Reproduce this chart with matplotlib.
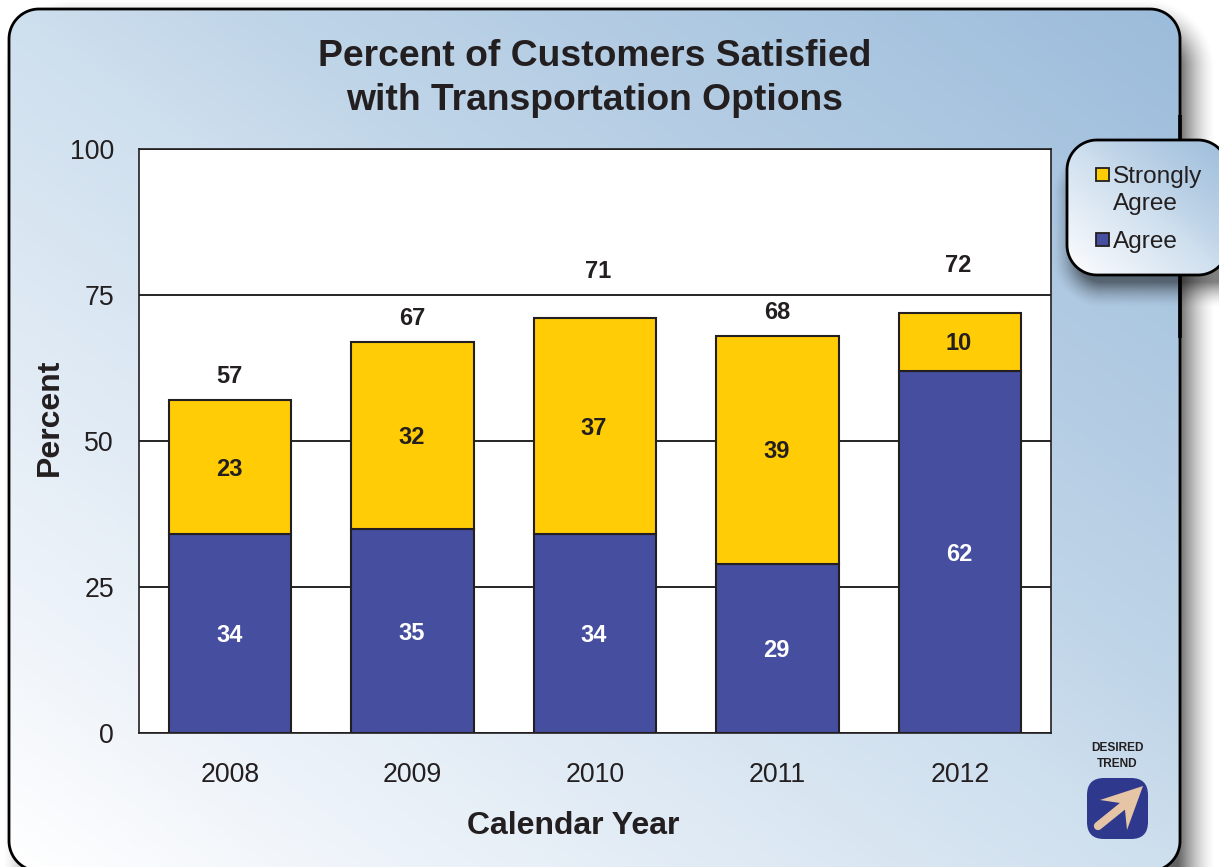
import numpy as np
import matplotlib
matplotlib.use('Agg')
import matplotlib.pyplot as plt
from matplotlib.colors import LinearSegmentedColormap
from matplotlib.patches import FancyBboxPatch, Polygon, Rectangle

plt.rcParams['font.family'] = ['Liberation Sans', 'DejaVu Sans']

years = ['2008', '2009', '2010', '2011', '2012']
agree = [34, 35, 34, 29, 62]
strongly_agree = [23, 32, 37, 39, 10]
totals = [57, 67, 71, 68, 72]
y_ticks = [0, 25, 50, 75, 100]

# distance of the total labels above the bars, in pixels (they float unevenly)
total_offset_px = [24, 23, 47, 23, 47]
total_shift_px = [-1, 0, 3, 0, -2]

W, H = 1219, 867
TEXT = '#231f20'
GOLD = '#ffcc05'
BLUE = '#464ea0'
DPI = 100

bg_cmap = LinearSegmentedColormap.from_list(
    'panel', [(0, '#ffffff'), (0.15, '#eff4fa'), (0.5, '#cedfee'),
              (0.6, '#c0d5e8'), (1, '#9cbcdb')])


def round_rect_sd(xx, yy, x0, y0, x1, y1, r):
    """Signed distance to a rounded rectangle, in pixels."""
    cx, cy = (x0 + x1) / 2, (y0 + y1) / 2
    qx = np.abs(xx - cx) - (x1 - x0) / 2 + r
    qy = np.abs(yy - cy) - (y1 - y0) / 2 + r
    return (np.hypot(np.maximum(qx, 0), np.maximum(qy, 0))
            + np.minimum(np.maximum(qx, qy), 0) - r)


def round_rect_outline(x0, y0, x1, y1, r):
    # plain polyline: agg mangles bezier corners that run off the canvas
    pts = []
    corners = [(x1 - r, y0 + r, -90), (x1 - r, y1 - r, 0),
               (x0 + r, y1 - r, 90), (x0 + r, y0 + r, 180)]
    for cx, cy, start in corners:
        a = np.radians(np.linspace(start, start + 90, 24))
        pts.extend(zip(cx + r * np.cos(a), cy + r * np.sin(a)))
    return pts


def draw_shadow(ax, xx, yy, box, r, blur, strength, zorder):
    d = round_rect_sd(xx, yy, *box, r)
    a = np.clip(1 - d / blur, 0, 1) ** 1.6 * strength
    img = np.zeros(xx.shape + (4,))
    img[..., 3] = a
    ax.imshow(img, extent=(0, W, H, 0), aspect='auto', zorder=zorder,
              interpolation='bilinear')


def gradient_box(ax, x0, y0, x1, y1, r, lw, zorder):
    patch = Polygon(round_rect_outline(x0, y0, x1, y1, r), closed=True,
                    fc='none', ec='#000000', lw=lw, zorder=zorder + 0.1)
    ax.add_patch(patch)
    xs = np.linspace(0, 1, 300)
    ys = np.linspace(0, 1, 300)
    gx, gy = np.meshgrid(xs, ys)
    im = ax.imshow((gx + (1 - gy)) / 2, extent=(x0, x1, y1, y0), aspect='auto',
                   cmap=bg_cmap, vmin=0, vmax=1, zorder=zorder)
    im.set_clip_path(patch)


fig = plt.figure(figsize=(W / DPI, H / DPI), dpi=DPI, facecolor='white')

# pixel-coordinate layer for the panel, legend card and trend badge
bg = fig.add_axes([0, 0, 1, 1], zorder=0)
xx, yy = np.meshgrid(np.arange(W) + 0.5, np.arange(H) + 0.5)
draw_shadow(bg, xx, yy, (40, 36, 1178, 900), 32, 38, 0.62, 1)
gradient_box(bg, 9, 9, 1180, 871, 30, 2.0, 2)

# the thicker edge segment behind the legend card
bg.plot([1180, 1180], [115, 338], color='#000000', lw=2.6, zorder=3,
        solid_capstyle='butt')
draw_shadow(bg, xx, yy, (1078, 170, 1240, 282), 24, 26, 0.5, 4)
gradient_box(bg, 1067, 140, 1228, 275, 30, 2.0, 5)

for top, color in [(168, GOLD), (233, BLUE)]:
    bg.add_patch(Rectangle((1096, top), 13, 13, fc=color, ec=TEXT, lw=1.3, zorder=7))
bg.text(1113, 177, 'Strongly', fontsize=17.6, color=TEXT, va='center', ha='left', zorder=7)
bg.text(1113, 204, 'Agree', fontsize=17.6, color=TEXT, va='center', ha='left', zorder=7)
bg.text(1113, 242, 'Agree', fontsize=17.6, color=TEXT, va='center', ha='left', zorder=7)

# desired trend badge
bg.text(1117, 748, 'DESIRED', fontsize=8.6, fontweight='bold', color=TEXT,
        ha='center', va='center', zorder=7)
bg.text(1117, 764, 'TREND', fontsize=8.6, fontweight='bold', color=TEXT,
        ha='center', va='center', zorder=7)
bg.add_patch(FancyBboxPatch((1101, 792), 33, 33,
                            boxstyle='round,pad=14,rounding_size=17',
                            fc='#2e388c', ec='none', zorder=7))
bg.add_patch(Polygon([(1143, 786), (1100, 800), (1120, 803), (1125, 810), (1127, 830)],
                     closed=True, fc='#e6c4a6', ec='none', zorder=8))
bg.plot([1098, 1124], [826, 805], color='#e6c4a6', lw=6, solid_capstyle='round', zorder=8)

bg.set_xlim(0, W)
bg.set_ylim(H, 0)
bg.axis('off')

# chart
ax = fig.add_axes([139 / W, 1 - 733 / H, (1051 - 139) / W, (733 - 149) / H], zorder=2)
ax.set_facecolor('white')
x = np.arange(len(years))
bar_w = 0.67
ax.set_axisbelow(True)
ax.yaxis.grid(True, color='#000000', lw=1.2)
ax.bar(x, agree, bar_w, color=BLUE, edgecolor=TEXT, lw=1.5, zorder=3)
ax.bar(x, strongly_agree, bar_w, bottom=agree, color=GOLD, edgecolor=TEXT, lw=1.5, zorder=3)

label_kw = dict(ha='center', va='center', fontsize=17, fontweight='bold', zorder=4)
seg_drop = -2.2 * 72 / DPI
for i in range(len(years)):
    ax.annotate(str(agree[i]), (x[i], agree[i] / 2), xytext=(-0.7, seg_drop),
                textcoords='offset points', color='white', **label_kw)
    ax.annotate(str(strongly_agree[i]), (x[i], agree[i] + strongly_agree[i] / 2),
                xytext=(-0.7, seg_drop), textcoords='offset points', color=TEXT, **label_kw)
    ax.annotate(str(totals[i]), (x[i], totals[i]),
                xytext=(total_shift_px[i] * 72 / DPI, total_offset_px[i] * 72 / DPI),
                textcoords='offset points', color=TEXT, annotation_clip=False, **label_kw)

ax.set_xlim(-0.5, len(years) - 0.5)
ax.set_ylim(0, 100)
ax.set_xticks(x, years)
ax.set_yticks(y_ticks)
ax.tick_params(axis='x', length=0, labelsize=19.2, labelcolor=TEXT, pad=21)
ax.tick_params(axis='y', length=0, labelsize=19.2, labelcolor=TEXT, pad=18)
for s in ax.spines.values():
    s.set_linewidth(1.2)
    s.set_color(TEXT)

fig.text(594.5 / W, 1 - 57 / H, 'Percent of Customers Satisfied', fontsize=26.85,
         fontweight='bold', color=TEXT, ha='center', va='center')
fig.text(594.5 / W, 1 - 100 / H, 'with Transportation Options', fontsize=26.85,
         fontweight='bold', color=TEXT, ha='center', va='center')
fig.text(50 / W, 1 - 417 / H, 'Percent', fontsize=23, fontweight='bold', color=TEXT,
         rotation=90, ha='center', va='center')
fig.text(573.5 / W, 1 - 826 / H, 'Calendar Year', fontsize=23, fontweight='bold',
         color=TEXT, ha='center', va='center')

fig.savefig('out.png', dpi=DPI)
